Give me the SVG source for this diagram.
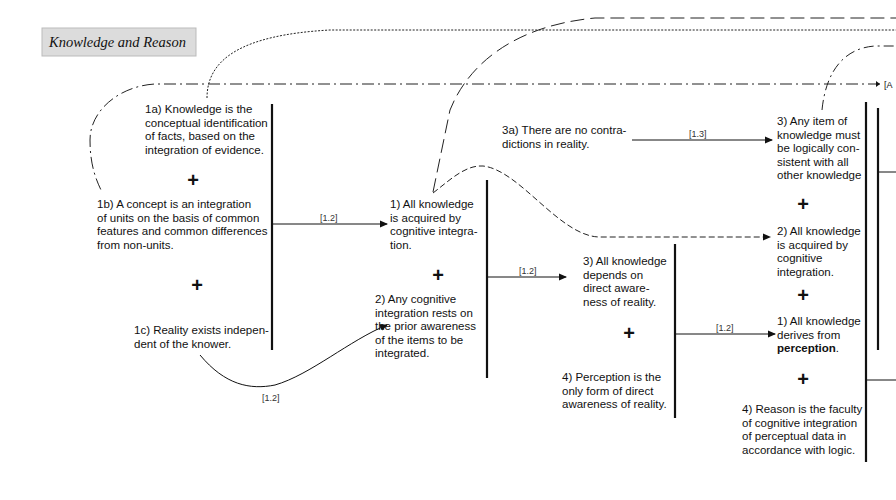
<svg xmlns="http://www.w3.org/2000/svg" width="896" height="500" viewBox="0 0 896 500">
<style>
text{font-family:"Liberation Sans",Arial,sans-serif;font-size:11.5px;fill:#111}
.lbl{font-size:9px;fill:#333}
.plus{font-size:20px;font-weight:bold;text-anchor:middle}
.bar{stroke:#111;stroke-width:2.2}
.ln{stroke:#111;stroke-width:1;fill:none}
.cv{stroke:#222;stroke-width:1;fill:none}
</style>
<defs>
<marker id="ah" markerWidth="8" markerHeight="8" refX="7" refY="4" orient="auto" markerUnits="userSpaceOnUse">
<path d="M0,0.5 L8,4 L0,7.5 Z" fill="#111"/>
</marker>
</defs>
<g id="title">
<rect x="42" y="28" width="154" height="28" fill="#dcdcdc" stroke="#bbb"/>
<text x="49" y="47" style="font-family:'Liberation Serif',serif;font-style:italic;font-size:14.5px">Knowledge and Reason</text>
</g>
<g id="connectors">
<path class="cv" d="M880,84 H155 C120,86 90,110 90,140 C90,165 96,180 102,192" stroke-dasharray="12,4,2,4"/>
<path d="M876,81 L880,84 L876,87 Z" fill="#111"/>
<path class="cv" d="M207,98 C207,60 240,35 330,30 H896" stroke-dasharray="2,1.5"/>
<path class="cv" d="M433,192 L450,110 C470,60 520,25 595,18 H896" stroke-dasharray="14,6"/>
<path class="cv" d="M822,110 C826,70 845,48 875,46 H896" stroke-dasharray="10,4,2,4"/>
<path class="cv" d="M433,193 C450,180 465,165 483,166 C520,170 560,237 600,237 H770" stroke-dasharray="6,3" marker-end="url(#ah)"/>
<line class="ln" x1="272" y1="224" x2="387" y2="224" marker-end="url(#ah)"/>
<text class="lbl" x="320" y="221">[1.2]</text>
<path class="ln" d="M200,355 C225,385 250,390 275,385 C310,375 350,340 387,325" marker-end="url(#ah)"/>
<text class="lbl" x="262" y="401">[1.2]</text>
<line class="ln" x1="487" y1="277" x2="566" y2="277" marker-end="url(#ah)"/>
<text class="lbl" x="519" y="274">[1.2]</text>
<line class="ln" x1="632" y1="140" x2="772" y2="140" marker-end="url(#ah)"/>
<text class="lbl" x="689" y="137">[1.3]</text>
<line class="ln" x1="675" y1="334" x2="775" y2="334" marker-end="url(#ah)"/>
<text class="lbl" x="716" y="331">[1.2]</text>
<line class="ln" x1="878" y1="172" x2="896" y2="172"/>
<line class="ln" x1="866" y1="380" x2="896" y2="380"/>
<text x="884" y="88" style="font-size:9px">[A</text>
</g>
<g id="bars">
<line class="bar" x1="272" y1="104" x2="272" y2="350"/>
<line class="bar" x1="487" y1="180" x2="487" y2="378"/>
<line class="bar" x1="675" y1="244" x2="675" y2="418"/>
<line class="bar" x1="866" y1="102" x2="866" y2="462"/>
<line class="bar" x1="878" y1="108" x2="878" y2="350"/>
</g>
<g id="n1a"><text x="145" y="113">1a) Knowledge is the<tspan x="145" dy="13.6">conceptual identification</tspan><tspan x="145" dy="13.6">of facts, based on the</tspan><tspan x="145" dy="13.6">integration of evidence.</tspan></text></g>
<text class="plus" x="193" y="187">+</text>
<g id="n1b"><text x="97" y="208">1b) A concept is an integration<tspan x="97" dy="13.6">of units on the basis of common</tspan><tspan x="97" dy="13.6">features and common differences</tspan><tspan x="97" dy="13.6">from non-units.</tspan></text></g>
<text class="plus" x="197" y="292">+</text>
<g id="n1c"><text x="134" y="334">1c) Reality exists indepen-<tspan x="134" dy="13.6">dent of the knower.</tspan></text></g>
<g id="n1"><text x="390" y="208">1) All knowledge<tspan x="390" dy="13.6">is acquired by</tspan><tspan x="390" dy="13.6">cognitive integra-</tspan><tspan x="390" dy="13.6">tion.</tspan></text></g>
<text class="plus" x="438" y="282">+</text>
<g id="n2"><text x="375" y="303">2) Any cognitive<tspan x="375" dy="13.6">integration rests on</tspan><tspan x="375" dy="13.6">the prior awareness</tspan><tspan x="375" dy="13.6">of the items to be</tspan><tspan x="375" dy="13.6">integrated.</tspan></text></g>
<g id="n3a"><text x="502" y="134">3a) There are no contra-<tspan x="502" dy="13.6">dictions in reality.</tspan></text></g>
<g id="n3"><text x="583" y="265">3) All knowledge<tspan x="583" dy="13.6">depends on</tspan><tspan x="583" dy="13.6">direct aware-</tspan><tspan x="583" dy="13.6">ness of reality.</tspan></text></g>
<text class="plus" x="629" y="340">+</text>
<g id="n4"><text x="562" y="381">4) Perception is the<tspan x="562" dy="13.6">only form of direct</tspan><tspan x="562" dy="13.6">awareness of reality.</tspan></text></g>
<g id="r3"><text x="777" y="125">3) Any item of<tspan x="777" dy="13.6">knowledge must</tspan><tspan x="777" dy="13.6">be logically con-</tspan><tspan x="777" dy="13.6">sistent with all</tspan><tspan x="777" dy="13.6">other knowledge</tspan></text></g>
<text class="plus" x="803" y="211">+</text>
<g id="r2"><text x="777" y="235">2) All knowledge<tspan x="777" dy="13.6">is acquired by</tspan><tspan x="777" dy="13.6">cognitive</tspan><tspan x="777" dy="13.6">integration.</tspan></text></g>
<text class="plus" x="803" y="302">+</text>
<g id="r1"><text x="777" y="325">1) All knowledge<tspan x="777" dy="13.6">derives from</tspan><tspan x="777" dy="13.6" font-weight="bold">perception</tspan>.</text></g>
<text class="plus" x="803" y="386">+</text>
<g id="r4"><text x="742" y="413">4) Reason is the faculty<tspan x="742" dy="13.6">of cognitive integration</tspan><tspan x="742" dy="13.6">of perceptual data in</tspan><tspan x="742" dy="13.6">accordance with logic.</tspan></text></g>
</svg>
